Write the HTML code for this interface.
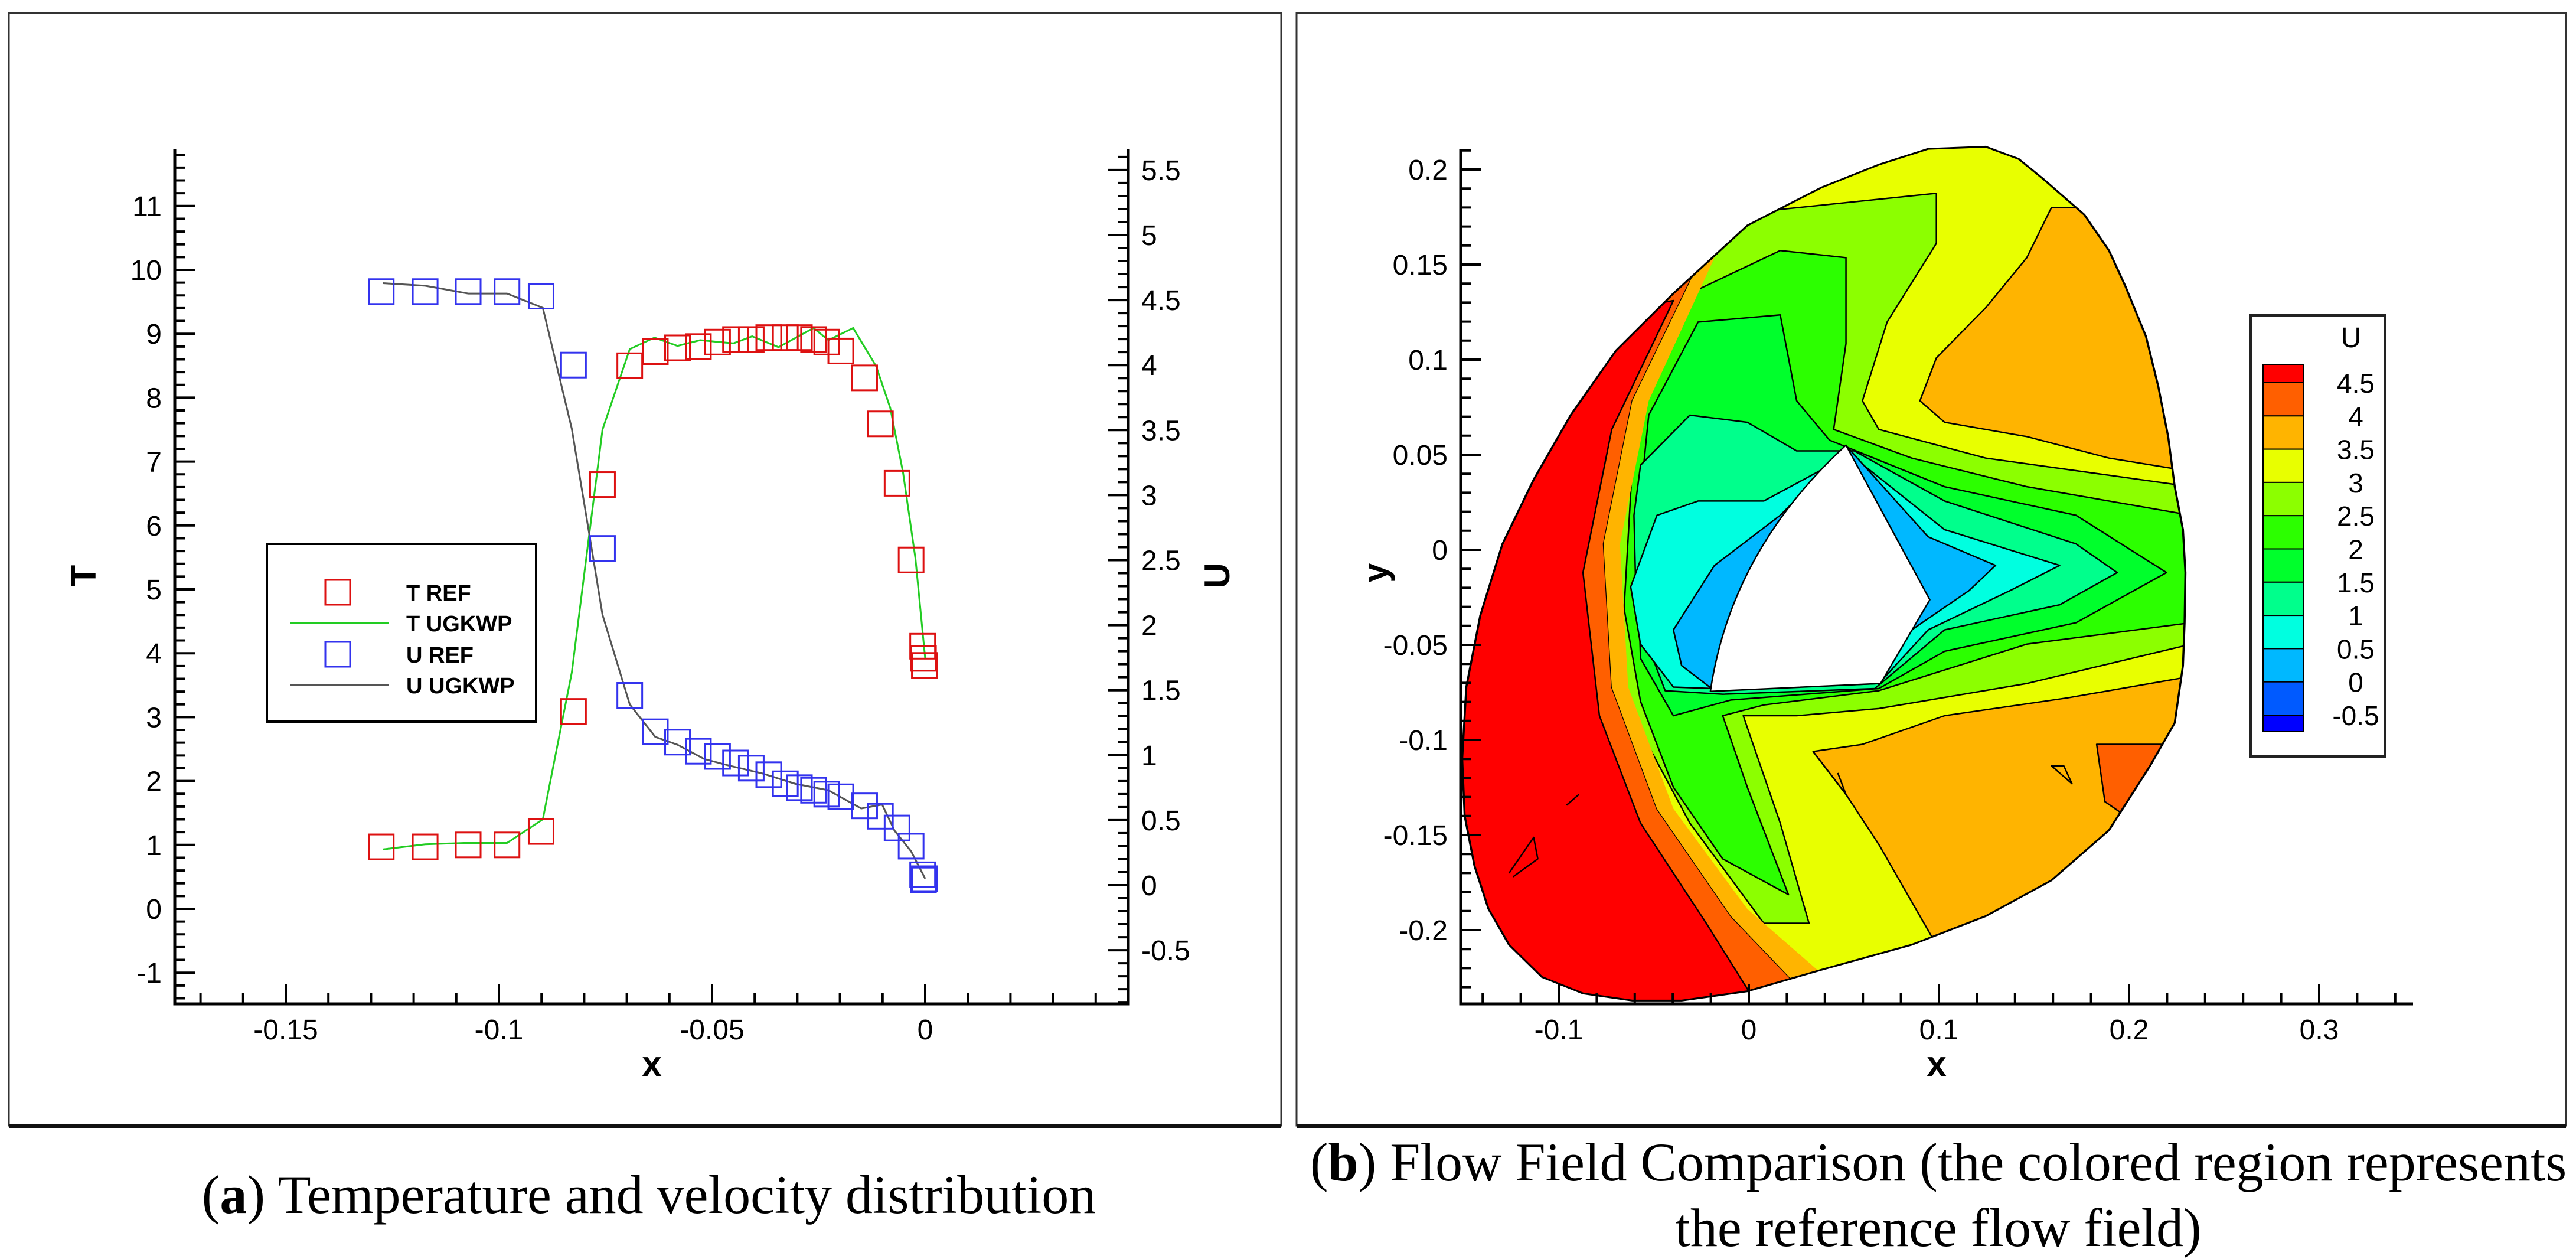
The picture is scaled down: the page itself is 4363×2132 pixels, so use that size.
<!DOCTYPE html>
<html><head><meta charset="utf-8"><style>
html,body{margin:0;padding:0;background:#fff}
svg{display:block}
text{font-family:"Liberation Sans",sans-serif}
</style></head><body>
<svg id="root" width="4363" height="2132" viewBox="0 0 4363 2132" xmlns="http://www.w3.org/2000/svg">
<rect x="0" y="0" width="4363" height="2132" fill="#fff"/>
<rect x="15" y="22" width="2155" height="1884" fill="none" stroke="#333" stroke-width="3"/>
<rect x="2196" y="22" width="2150" height="1884" fill="none" stroke="#333" stroke-width="3"/>
<rect x="15" y="1904" width="2155" height="6" fill="#111"/>
<rect x="2196" y="1904" width="2150" height="6" fill="#111"/>

<g id="chartA"></g>

<g id="chartB">
 <defs>
  <clipPath id="outerClip"><path id="outerPathC" d="M780,208 L850,205 L890,222 L920,250 L970,300 L1000,350 L1020,400 L1045,470 L1060,540 L1072,610 L1080,680 L1090,740 L1093,800 L1092,870 L1090,930 L1080,1010 L1050,1070 L1000,1160 L930,1230 L850,1280 L760,1320 L650,1355 L560,1385 L480,1398 L420,1398 L360,1388 L310,1365 L270,1320 L245,1270 L228,1210 L216,1140 L213,1060 L218,960 L235,860 L262,760 L300,670 L345,580 L400,490 L470,410 L560,315 L650,262 L720,230 Z"/></clipPath>
 </defs>
 <g transform="translate(2180,0) scale(1.392,1.212)">
  <g clip-path="url(#outerClip)" stroke="#000" stroke-width="2.5" vector-effect="non-scaling-stroke" stroke-linejoin="round">
   <rect x="150" y="150" width="1000" height="1300" fill="#e8ff00" stroke="none"/>
   <path fill="#ffb400" vector-effect="non-scaling-stroke" d="M930,290 L970,290 L1030,400 L1070,540 L1080,655 L1000,640 L900,610 L800,590 L770,560 L790,500 L850,430 L900,360 Z"/>
   <path fill="#ffb400" vector-effect="non-scaling-stroke" d="M640,1050 L700,1040 L800,1000 L950,975 L1100,945 L1100,1100 L1000,1160 L930,1230 L850,1280 L785,1310 L760,1260 L720,1180 L680,1110 Z"/>
   <path fill="#ff5f00" vector-effect="non-scaling-stroke" d="M985,1040 L1070,1040 L1020,1140 L995,1120 Z"/>
   <path fill="#8cff00" vector-effect="non-scaling-stroke" d="M470,390 L580,295 L790,270 L790,340 L730,450 L700,560 L720,600 L850,640 L1100,680 L1100,900 L900,955 L720,990 L620,1000 L555,1000 L600,1150 L635,1290 L580,1290 L490,1150 L420,1000 L390,850 L400,650 L430,480 Z"/>
   <path fill="#2cff00" vector-effect="non-scaling-stroke" d="M490,410 L600,350 L680,360 L680,480 L665,600 L760,640 L900,680 L1100,720 L1100,870 L900,900 L720,965 L580,985 L530,1000 L560,1100 L610,1250 L530,1200 L470,1100 L430,980 L410,850 L420,650 L450,500 Z"/>
   <path fill="#00ff2c" vector-effect="non-scaling-stroke" d="M440,580 L500,450 L600,440 L620,560 L660,615 L800,680 L960,720 L1070,800 L960,870 L800,910 L720,962 L540,978 L470,1000 L430,920 L425,750 Z"/>
   <path fill="#00ff8c" vector-effect="non-scaling-stroke" d="M430,650 L490,580 L560,590 L620,630 L690,630 L800,700 L960,760 L1010,800 L940,845 L800,880 L715,962 L530,970 L460,965 L425,860 L422,720 Z"/>
   <path fill="#00ffe0" vector-effect="non-scaling-stroke" d="M418,820 L450,720 L500,700 L580,700 L685,635 L800,740 L940,790 L880,825 L780,880 L720,955 L520,962 L470,960 L430,900 Z"/>
   <path fill="#00b8ff" vector-effect="non-scaling-stroke" d="M470,880 L520,790 L600,720 L682,625 L780,750 L862,790 L830,825 L760,880 L722,955 L520,965 L480,930 Z"/>
   <path fill="#ff5f00" vector-effect="non-scaling-stroke" d="M440,410 L500,370 L420,560 L385,760 L395,960 L450,1130 L540,1280 L640,1400 L560,1400 L500,1300 L420,1150 L370,1000 L350,800 L370,620 Z"/>
   <path fill="#ff0000" vector-effect="non-scaling-stroke" d="M150,1450 L150,600 L420,430 L470,420 L395,600 L360,800 L380,1000 L430,1150 L510,1290 L570,1400 L560,1450 Z"/>
   <path fill="#ffb400" stroke="none" d="M500,370 L520,360 L440,560 L405,760 L415,960 L470,1130 L560,1270 L650,1360 L640,1400 L540,1280 L450,1130 L395,960 L385,760 L420,560 Z"/>
   <path fill="none" vector-effect="non-scaling-stroke" d="M270,1220 L300,1170 L305,1200 L275,1225 M340,1125 L355,1110 M930,1070 L955,1095 L945,1070 Z M640,1050 L680,1110 L670,1080"/>
   <path fill="#fff" vector-effect="non-scaling-stroke" d="M680,622 L782,838 L722,955 L515,966 Q540,770 680,622 Z"/>
  </g>
  <use href="#outerPathC" fill="none" stroke="#000" stroke-width="2.5" vector-effect="non-scaling-stroke"/>
 </g>
 <g id="axesB"></g>
 <g id="cbar">
  <rect x="3812" y="534" width="228" height="747" fill="#fff" stroke="#222" stroke-width="4"/>
  <text x="3982" y="588" font-size="48" text-anchor="middle">U</text>
 </g>
</g>

<text x="1099" y="2054" font-size="92" text-anchor="middle" style="font-family:'Liberation Serif',serif">(<tspan font-weight="bold">a</tspan>) Temperature and velocity distribution</text>
<text x="3283" y="1999" font-size="92" text-anchor="middle" style="font-family:'Liberation Serif',serif">(<tspan font-weight="bold">b</tspan>) Flow Field Comparison (the colored region represents</text>
<text x="3283" y="2110" font-size="92" text-anchor="middle" style="font-family:'Liberation Serif',serif">the reference flow field)</text>
</svg>
<script>
// ---- Chart A data ----
const tRefX = [-0.1276,-0.1173,-0.1072,-0.0981,-0.0901,-0.0825,-0.0757,-0.0693,-0.0633,-0.0581,-0.0532,-0.0487,-0.0445,-0.0408,-0.0367,-0.0328,-0.0295,-0.0262,-0.0231,-0.0198,-0.0142,-0.0105,-0.0066,-0.0033,-0.0006,-0.0004,-0.0002];
const tRefY = [0.97,0.97,1.0,1.0,1.21,3.09,6.64,8.5,8.72,8.78,8.8,8.87,8.91,8.91,8.94,8.94,8.94,8.91,8.87,8.73,8.31,7.59,6.66,5.46,4.11,3.92,3.81];
const uRefX = tRefX.slice();
const uRefY = [4.565,4.565,4.565,4.565,4.53,4.0,2.59,1.46,1.18,1.10,1.03,0.99,0.94,0.90,0.85,0.78,0.75,0.73,0.70,0.68,0.61,0.53,0.44,0.30,0.08,0.04,0.05];
const tLineX = [-0.1272,-0.1173,-0.1082,-0.0981,-0.0897,-0.0829,-0.0757,-0.0693,-0.0635,-0.0581,-0.0528,-0.0450,-0.0406,-0.0344,-0.0262,-0.0227,-0.0169,-0.0115,-0.0082,-0.0052,-0.0023,0];
const tLineY = [0.93,1.01,1.03,1.03,1.40,3.70,7.50,8.76,8.94,8.81,8.90,8.85,8.96,8.79,9.09,8.90,9.09,8.49,7.84,6.83,5.49,3.92];
const uLineX = [-0.1272,-0.1173,-0.1072,-0.0981,-0.0897,-0.0829,-0.0790,-0.0757,-0.0693,-0.0633,-0.0581,-0.0518,-0.0460,-0.0383,-0.0305,-0.0227,-0.0150,-0.0101,-0.0072,-0.0033,0];
const uLineY = [4.63,4.61,4.55,4.55,4.44,3.51,2.74,2.08,1.39,1.14,1.08,0.97,0.92,0.86,0.78,0.73,0.59,0.62,0.42,0.26,0.05];
const xTicks = [-0.15,-0.1,-0.05,0];
const xTickLabels = ["-0.15","-0.1","-0.05","0"];
const tTicks = [-1,0,1,2,3,4,5,6,7,8,9,10,11];
const uTicks = [-0.5,0,0.5,1,1.5,2,2.5,3,3.5,4,4.5,5,5.5];
// ---- Chart B data ----
const bxTicks = [-0.1,0,0.1,0.2,0.3];
const byTicks = [-0.2,-0.15,-0.1,-0.05,0,0.05,0.1,0.15,0.2];
const cbarLabels = ["4.5","4","3.5","3","2.5","2","1.5","1","0.5","0","-0.5"];
const cbarColors = ["#ff0000","#ff5f00","#ffb400","#e8ff00","#8cff00","#2cff00","#00ff2c","#00ff8c","#00ffe0","#00b8ff","#005aff","#0000ff"];

const NS="http://www.w3.org/2000/svg";
function mk(tag,attrs,parent){const e=document.createElementNS(NS,tag);for(const k in attrs)e.setAttribute(k,attrs[k]);parent.appendChild(e);return e;}
const A=document.getElementById('chartA');
const AX0=296,AX1=1911,AY0=252,AY1=1700;
const xS=v=>1567+v*7220, tS=v=>1539-v*108.2, uS=v=>1499-v*220.2;
let ln=mk('path',{d:`M${AX0},${AY0} L${AX0},${AY1} L${AX1},${AY1} L${AX1},${AY0}`,fill:'none',stroke:'#000','stroke-width':5},A);


for(let v=-0.17;v<=0.045;v+=0.01){const vv=Math.round(v*100)/100;const major=Math.abs(vv*100)%5===0;const p=xS(vv);if(p<AX0||p>AX1)continue;mk('line',{x1:p,x2:p,y1:AY1,y2:AY1-(major?34:18),stroke:'#000','stroke-width':4},A);}
xTicks.forEach((v,i)=>{const t=mk('text',{x:xS(v),y:AY1+60,'font-size':48,'text-anchor':'middle'},A);t.textContent=xTickLabels[i];

});
for(let k=-7;k<=59;k++){const v=k/5;const p=tS(v);if(p<AY0||p>AY1)continue;const major=k%5===0;mk('line',{x1:AX0,x2:AX0+(major?34:18),y1:p,y2:p,stroke:'#000','stroke-width':4},A);}
tTicks.forEach(v=>{const t=mk('text',{x:AX0-22,y:tS(v)+17,'font-size':48,'text-anchor':'end'},A);t.textContent=String(v);

});
for(let k=-9;k<=56;k++){const v=k/10;const p=uS(v);if(p<AY0||p>AY1)continue;const major=k%5===0;mk('line',{x1:AX1,x2:AX1-(major?34:18),y1:p,y2:p,stroke:'#000','stroke-width':4},A);}
uTicks.forEach(v=>{const t=mk('text',{x:AX1+22,y:uS(v)+17,'font-size':48,'text-anchor':'start'},A);t.textContent=String(v);

});
let tt=mk('text',{x:1104,y:1822,'font-size':60,'font-weight':'bold','text-anchor':'middle'},A);tt.textContent='x';


tt=mk('text',{x:0,y:0,'font-size':60,'font-weight':'bold','text-anchor':'middle',transform:'translate(162,975) rotate(-90)'},A);tt.textContent='T';


tt=mk('text',{x:0,y:0,'font-size':60,'font-weight':'bold','text-anchor':'middle',transform:'translate(2082,975) rotate(-90)'},A);tt.textContent='U';


let pl=mk('polyline',{points:tLineX.map((x,i)=>xS(x)+','+tS(tLineY[i])).join(' '),fill:'none',stroke:'#22cc22','stroke-width':3},A);


pl=mk('polyline',{points:uLineX.map((x,i)=>xS(x)+','+uS(uLineY[i])).join(' '),fill:'none',stroke:'#555','stroke-width':3},A);


const M=42;
tRefX.forEach((x,i)=>{const r=mk('rect',{x:xS(x)-M/2,y:tS(tRefY[i])-M/2,width:M,height:M,fill:'none',stroke:'#dd1111','stroke-width':3},A);

});
uRefX.forEach((x,i)=>{const r=mk('rect',{x:xS(x)-M/2,y:uS(uRefY[i])-M/2,width:M,height:M,fill:'none',stroke:'#3333ee','stroke-width':3},A);

});
const L=mk('g',{},A);


mk('rect',{x:452,y:921,width:456,height:301,fill:'#fff',stroke:'#000','stroke-width':4},L);
const legRows=[['T REF','sq','#dd1111',1003],['T UGKWP','ln','#22cc22',1055],['U REF','sq','#3333ee',1108],['U UGKWP','ln','#555',1160]];
legRows.forEach(r=>{if(r[1]==='sq')mk('rect',{x:572-M/2,y:r[3]-M/2,width:M,height:M,fill:'none',stroke:r[2],'stroke-width':3},L);else mk('line',{x1:491,x2:659,y1:r[3],y2:r[3],stroke:r[2],'stroke-width':3},L);
const t=mk('text',{x:688,y:r[3]+14,'font-size':38,'font-weight':'bold'},L);t.textContent=r[0];

});

const B=document.getElementById('axesB');
const BX0=2474,BX1=4087,BY0=252,BY1=1700;
const bx=v=>2962+v*3220, by=v=>931-v*3220;
ln=mk('path',{d:`M${BX0},${BY0} L${BX0},${BY1} L${BX1},${BY1}`,fill:'none',stroke:'#000','stroke-width':5},B);


for(let k=-8;k<=18;k++){const p=bx(k/50);if(p<BX0||p>BX1)continue;const major=k%5===0;mk('line',{x1:p,x2:p,y1:BY1,y2:BY1-(major?34:18),stroke:'#000','stroke-width':4},B);}
bxTicks.forEach(v=>{const t=mk('text',{x:bx(v),y:BY1+60,'font-size':48,'text-anchor':'middle'},B);t.textContent=String(v);

});
for(let k=-25;k<=22;k++){const p=by(k/100);if(p<BY0||p>BY1)continue;const major=k%5===0;mk('line',{x1:BX0,x2:BX0+(major?34:18),y1:p,y2:p,stroke:'#000','stroke-width':4},B);}
byTicks.forEach(v=>{const t=mk('text',{x:BX0-22,y:by(v)+17,'font-size':48,'text-anchor':'end'},B);t.textContent=String(v);

});
tt=mk('text',{x:3280,y:1822,'font-size':60,'font-weight':'bold','text-anchor':'middle'},B);tt.textContent='x';


tt=mk('text',{x:0,y:0,'font-size':60,'font-weight':'bold','text-anchor':'middle',transform:'translate(2350,970) rotate(-90)'},B);tt.textContent='y';


const C=document.getElementById('cbar');
const cTop=617,cBot=1239,firstB=648,step=(1211-648)/10;
cbarColors.forEach((c,i)=>{const y0=i===0?cTop:firstB+(i-1)*step;const y1=i===cbarColors.length-1?cBot:firstB+i*step;
const r=mk('rect',{x:3833,y:y0,width:68,height:y1-y0,fill:c,stroke:'#000','stroke-width':2},C);

});
cbarLabels.forEach((s,i)=>{const t=mk('text',{x:3990,y:firstB+i*step+17,'font-size':46,'text-anchor':'middle'},C);t.textContent=s;

});
</script>
</body></html>
